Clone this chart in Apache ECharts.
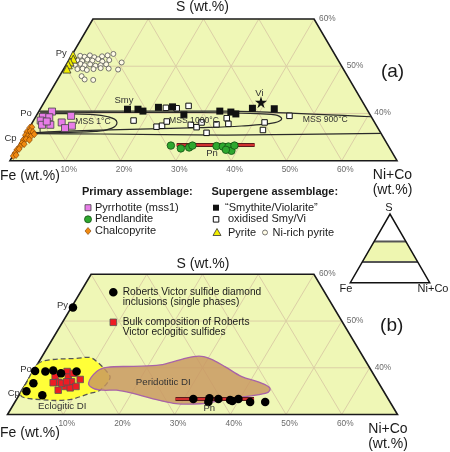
<!DOCTYPE html>
<html><head><meta charset="utf-8">
<script src="https://cdn.jsdelivr.net/npm/echarts@6/dist/echarts.min.js"></script>
<style>html,body{margin:0;padding:0;background:#fff}#c{width:450px;height:452px}</style>
</head><body><div id="c"></div>
<script>
// All compositions given as [Ni+Co wt.%, S wt.%]; Fe wt.% = 100 - Ni+Co - S
// ---------- panel (a) ----------
const pyrite = [[0.2,52.4],[0.7,51.5],[0.4,50.9],[0.4,50.3],[0.6,49.4]];
const niRichPyrite = [
 [1.6,52.2],[2.5,52.0],[3.3,52.3],[4.3,51.9],[5.6,52.1],[6.5,52.3],[7.4,52.6],
 [1.5,51.3],[2.5,51.1],[3.3,51.4],[4.3,51.2],[5.2,51.5],[6.2,51.0],[7.3,51.3],[9.8,50.8],
 [1.6,50.3],[2.5,50.5],[3.4,50.2],[4.3,50.4],[5.4,50.1],[6.3,50.2],[7.2,50.4],
 [2.5,49.4],[3.4,49.5],[4.3,49.2],[5.4,49.4],[6.6,49.6],[8.1,49.5],[9.9,49.3],
 [4.0,47.9],[4.9,47.2],[6.5,47.1]];
const pyrrhotite = [[2.4,40.4],[1.3,39.3],[2.5,39.2],[1.3,38.5],[3.5,37.6],[2.0,37.6],[5.3,38.1],[6.3,39.5],[7.5,37.4],[6.5,36.9],[2.5,38.3]];
const pentlandite = [[27.5,33.2],[29.6,32.6],[31.0,32.8],[31.4,33.2],[35.8,33.1],[37.0,33.0],[38.0,33.0],[39.0,32.1],[39.0,33.2],[37.9,32.3]];
const chalcopyrite = [[0.1,37.0],[0.4,37.1],[0.0,36.1],[0.5,36.3],[1.1,36.1],[0.1,35.4],[0.6,35.2],[1.2,35.1],[1.6,35.6],[0.2,34.4],[0.6,34.6],[1.3,34.4],[0.3,33.7],[0.8,33.5],[0.3,33.0],[0.1,32.3],[0.4,32.5],[0.1,31.6],[0.1,31.0],[0.5,31.2]];
const smythiteViolarite = [[15.8,40.9],[17.7,40.9],[18.8,40.5],[21.2,41.3],[23.7,41.4],[26.6,39.7],[32.7,40.5],[34.8,40.3],[35.9,39.9],[38.3,41.1],[42.3,41.0]];
const violarite = [[39.2,42.4]];
const oxidisedSmyVi = [[18.1,38.5],[22.6,41.2],[24.6,41.1],[26.5,41.6],[22.9,37.2],[23.8,37.4],[24.2,38.3],[28.9,37.6],[30.2,37.1],[30.6,38.1],[33.5,37.7],[32.6,35.9],[34.7,39.0],[35.6,37.8],[45.8,39.5],[42.0,38.1],[42.5,36.5]];
const pnRange = [[28.5,33.3],[42.6,33.3]];
const mss1C = [[0.4,40.0],[9.6,39.8],[13.1,39.3],[15.3,38.1],[15.0,36.9],[12.3,36.2],[7.9,36.0],[2.5,35.9]];
const mss1000C = [[0.3,40.3],[14.8,40.2],[29.3,40.2],[38.4,40.0],[43.1,39.7],[44.7,38.9],[43.9,38.05],[38.2,37.35],[30.9,37.0],[16.6,36.6],[6.0,36.2],[1.2,35.9]];
const mss900Upper = [[0.0,40.5],[33.6,40.5],[60.7,39.3]];
const mss900Lower = [[64.2,35.8],[36.2,35.4],[13.5,35.65],[1.3,35.75]];
// ---------- panel (b) ----------
const rvInclusions = [[0.3,52.9],[0.3,39.3],[2.2,39.2],[3.5,39.4],[5.2,38.8],[7.8,39.2],[1.3,36.7],[0.9,35.0],[4.2,34.1],[31.7,33.3],[34.5,33.5],[36.2,33.3],[34.7,32.7],[38.4,33.1],[38.9,32.9],[39.8,33.3],[42.2,32.7],[44.9,32.7]];
const rvBulk = [[4.5,38.1],[5.7,36.9],[6.1,39.2],[6.9,38.0],[7.4,38.8],[8.0,37.0],[9.3,37.5],[6.5,35.2],[7.4,36.0],[8.4,35.7],[9.3,36.0],[6.4,36.7],[4.8,36.8],[7.1,37.0]];
const eclogiticDI = [[0,40.8],[1.8,41.7],[6.4,42.0],[8.7,42.2],[10.4,41.3],[13.2,39.2],[14.5,37.8],[14.0,35.2],[12.5,34.5],[9.1,33.1],[3.0,33.3],[0.7,33.8],[0,34.7],[0,36.7]];
const peridotiticDI = [[11.2,36.7],[11.4,39.2],[12.8,40.1],[17.5,40.3],[22.1,40.6],[25.1,41.7],[27.2,42.4],[29.0,42.4],[31.2,41.6],[34.0,40.2],[38.0,38.1],[41.5,37.0],[43.8,36.0],[44.5,35.2],[44.0,34.5],[40.7,33.8],[37.5,33.2],[33.4,32.3],[28.6,32.4],[23.9,33.5],[20.3,34.5],[17.0,35.2],[14.6,35.2],[12.6,35.6]];
// ---------- window, grid and ticks ----------
const windowCorners = [[0,30],[70,30],[40,60],[0,60]];
const sGrid = [40,50];
const niGrid = [10,20,30,40,50,60];
const feGrid = [10,20,30,40,50,60];
const bottomTicks = [10,20,30,40,50,60];
const bottomTickLabels = ['10%','20%','30%','40%','50%','60%'];
const rightTicks = [40,50,60];
const rightTickLabels = ['40%','50%','60%'];
const insetTriangle = [[0,0],[100,0],[0,100]];

const FONT = "'Liberation Sans', Arial, Helvetica, sans-serif";
const BG = '#eff7b6', GRIDC = '#dccfa6';
function tern(p){ return [p[0] + p[1]/2, p[1]]; }
const T = arr => arr.map(tern);

function frameSeries(gi){
  return {type:'custom', xAxisIndex:gi, yAxisIndex:gi, z:1, silent:true, data:[[50,45]],
    renderItem:(params, api)=>{
      const P = p => api.coord(tern(p));
      const ch = [];
      ch.push({type:'polygon', shape:{points: windowCorners.map(P)}, style:{fill:BG}});
      const seg = (a,b)=>{const A=P(a),B=P(b);ch.push({type:'line', shape:{x1:A[0],y1:A[1],x2:B[0],y2:B[1]}, style:{stroke:GRIDC, lineWidth:1}});};
      sGrid.forEach(s=>seg([0,s],[100-s,s]));
      niGrid.forEach(k=>seg([k,30], k<=40?[k,60]:[k,100-k]));
      feGrid.forEach(f=>seg([70-f,30], f<=40?[40-f,60]:[0,100-f]));
      ch.push({type:'polygon', shape:{points: windowCorners.map(P)}, style:{fill:'none', stroke:'#1a1a1a', lineWidth:1.6}});
      return {type:'group', children:ch};
    }};
}
function tickSeries(gi){
  return [
    {type:'scatter', xAxisIndex:gi, yAxisIndex:gi, symbolSize:0, silent:true, z:5,
     data: bottomTicks.map((v,i)=>({value: tern([v,30]), name: bottomTickLabels[i]})),
     label:{show:true, position:'inside', offset:[3.5,8.8], formatter:'{b}', fontSize:8.3, color:'#444', fontFamily:FONT}},
    {type:'scatter', xAxisIndex:gi, yAxisIndex:gi, symbolSize:0, silent:true, z:5,
     data: rightTicks.map((s,i)=>({value: tern([100-s,s]), name: rightTickLabels[i]})),
     label:{show:true, position:'right', distance:5, offset:[0,-0.5], formatter:'{b}', fontSize:8.3, color:'#444', fontFamily:FONT}}
  ];
}
function sc(gi, data, symbol, size, fill, stroke, bw, z){
  return {type:'scatter', xAxisIndex:gi, yAxisIndex:gi, data:T(data), symbol, symbolSize:size, z:z||6, silent:true,
    itemStyle:{color:fill, borderColor:stroke, borderWidth:bw, opacity:1}};
}
function ln(gi, data, color, width, smooth, z){
  return {type:'line', xAxisIndex:gi, yAxisIndex:gi, data:T(data), showSymbol:false, symbol:'none', smooth:smooth, z:z||4, silent:true,
    lineStyle:{color, width}};
}
function fieldSeries(gi, pts, fill, stroke, dash, z){
  return {type:'custom', xAxisIndex:gi, yAxisIndex:gi, z, silent:true, data:[[50,45]],
    renderItem:(params, api)=>({type:'polygon', shape:{points: pts.map(p=>api.coord(tern(p))), smooth:0.35},
      style:{fill, stroke, lineWidth:1.3, lineDash: dash||null}})};
}
const STAR = 'path://M50,0 L61,35 L98,35 L68,57 L79,91 L50,70 L21,91 L32,57 L2,35 L39,35 Z';

const series = [
  frameSeries(0), ...tickSeries(0),
  ln(0, mss1C.concat([mss1C[0]]), '#2a2a2a', 1.2, 0.5),
  ln(0, mss1000C, '#2a2a2a', 1.2, 0.4),
  ln(0, mss900Upper, '#2a2a2a', 1.2, 0.2),
  ln(0, mss900Lower, '#2a2a2a', 1.2, 0.2),
  ln(0, pnRange, '#5a1c1c', 4, false, 5),
  ln(0, pnRange, '#d03030', 2, false, 5),
  sc(0, chalcopyrite, 'diamond', [6,7], '#f08a10', '#7a3a00', 0.6),
  sc(0, pyrrhotite, 'rect', 7, '#e87de8', '#444', 0.8),
  sc(0, pentlandite, 'circle', 7.5, '#2ea82e', '#125012', 0.8),
  sc(0, niRichPyrite, 'circle', 5, '#fffbe6', '#555', 0.8),
  sc(0, pyrite, 'triangle', 8, '#f2ee00', '#333', 0.8, 7),
  sc(0, oxidisedSmyVi, 'rect', 5.5, '#ffffff', '#111', 1),
  sc(0, smythiteViolarite, 'rect', 7, '#111', '#111', 0),
  sc(0, violarite, STAR, 12, '#111', '#111', 0),

  frameSeries(1), ...tickSeries(1),
  fieldSeries(1, eclogiticDI, '#ffff38', '#555', [5,3], 2),
  fieldSeries(1, peridotiticDI, 'rgba(200,150,95,0.82)', '#a863a8', null, 3),
  ln(1, pnRange, '#5a1c1c', 4, false, 5),
  ln(1, pnRange, '#d03030', 2, false, 5),
  sc(1, rvBulk, 'rect', 6.5, '#ee1c24', '#555', 0.8, 6),
  sc(1, rvInclusions, 'circle', 8.5, '#000', '#000', 0, 7),

  {type:'custom', xAxisIndex:2, yAxisIndex:2, z:1, silent:true, data:[[50,50]],
   renderItem:(params, api)=>{
     const P = p => api.coord(tern(p));
     const band = windowCorners.map(P);
     const A=P([0,30]),B=P([70,30]),C=P([0,60]),D=P([40,60]);
     return {type:'group', children:[
       {type:'polygon', shape:{points:band}, style:{fill:'#eef6b0'}},
       {type:'line', shape:{x1:A[0],y1:A[1],x2:B[0],y2:B[1]}, style:{stroke:'#555', lineWidth:2}},
       {type:'line', shape:{x1:C[0],y1:C[1],x2:D[0],y2:D[1]}, style:{stroke:'#555', lineWidth:2}},
       {type:'polygon', shape:{points: insetTriangle.map(P)}, style:{fill:'none', stroke:'#111', lineWidth:1.5}}
     ]};
   }}
];

function txt(x,y,text,size,o){
  return {type:'text', x, y, z:100, zlevel:1, silent:true, style:Object.assign({text, font:`${size}px ${FONT}`, fill:'#1a1a1a',
    align:'center', verticalAlign:'middle'}, o||{})};
}
function shp(o){ return Object.assign({z:100, zlevel:1, silent:true}, o); }
const L = {align:'left'};
const graphic = [
  txt(202.5,7.5,'S (wt.%)',14),
  txt(0,175.8,'Fe (wt.%)',14,L),
  txt(392.5,174.7,'Ni+Co',14), txt(392.5,190,'(wt.%)',14),
  txt(392.5,72,'(a)',19),
  txt(61.3,53,'Py',9.5,{fill:'#333'}), txt(26,113,'Po',9.5,{fill:'#333'}), txt(10.5,138,'Cp',9.5,{fill:'#333'}),
  txt(124,100.3,'Smy',9.5,{fill:'#333'}), txt(259.5,93,'Vi',9.5,{fill:'#333'}), txt(212,153.7,'Pn',9.5,{fill:'#333'}),
  txt(93,122,'MSS 1°C',8.6,{fill:'#333'}), txt(194,120.5,'MSS 1000°C',8.6,{fill:'#333'}), txt(325.3,120,'MSS 900°C',8.6,{fill:'#333'}),
  // legend (a)
  txt(82,192,'Primary assemblage:',11,{align:'left', font:`bold 11px ${FONT}`}),
  txt(211.5,192,'Supergene assemblage:',11,{align:'left', font:`bold 11px ${FONT}`}),
  shp({type:'rect', shape:{x:85,y:204.7,width:6,height:6}, style:{fill:'#e87de8', stroke:'#444', lineWidth:0.8}}),
  shp({type:'circle', shape:{cx:88,cy:219.3,r:3.5}, style:{fill:'#2ea82e', stroke:'#125012', lineWidth:0.8}}),
  shp({type:'polygon', shape:{points:[[88,227.5],[91,231],[88,234.5],[85,231]]}, style:{fill:'#f08a10', stroke:'#7a3a00', lineWidth:0.6}}),
  txt(95,207.7,'Pyrrhotite (mss1)',11,L), txt(95,219.3,'Pendlandite',11,L), txt(95,231,'Chalcopyrite',11,L),
  shp({type:'rect', shape:{x:213,y:204.7,width:6,height:6}, style:{fill:'#111'}}),
  shp({type:'rect', shape:{x:213.3,y:216.6,width:5.5,height:5.5}, style:{fill:'#fff', stroke:'#111', lineWidth:1}}),
  shp({type:'polygon', shape:{points:[[217,228.5],[221,235.5],[213,235.5]]}, style:{fill:'#f2ee00', stroke:'#333', lineWidth:0.8}}),
  shp({type:'circle', shape:{cx:265,cy:232.5,r:2.5}, style:{fill:'#fffbe6', stroke:'#555', lineWidth:0.8}}),
  txt(225,207.7,'\u201cSmythite/Violarite\u201d',11,L), txt(228,219.3,'oxidised Smy/Vi',11,L),
  txt(228,232.5,'Pyrite',11,L), txt(272.5,232.5,'Ni-rich pyrite',11,L),
  // inset labels
  txt(389,207.5,'S',11), txt(346,289,'Fe',11), txt(433,289,'Ni+Co',11),
  // panel (b)
  txt(203,264.5,'S (wt.%)',14),
  txt(0,432.8,'Fe (wt.%)',14,L),
  txt(388,429,'Ni+Co',14), txt(388,444,'(wt.%)',14),
  txt(391.7,326,'(b)',19),
  txt(62.5,305.5,'Py',9.5,{fill:'#333'}), txt(26,369.7,'Po',9.5,{fill:'#333'}), txt(13.7,393.3,'Cp',9.5,{fill:'#333'}),
  txt(62.3,406.7,'Eclogitic DI',9.7,{fill:'#333'}), txt(163.3,382.7,'Peridotitic DI',9.7,{fill:'#333'}), txt(209.3,408.3,'Pn',9.5,{fill:'#333'}),
  shp({type:'circle', shape:{cx:113.3,cy:292.3,r:4.3}, style:{fill:'#000'}}),
  txt(122.7,291.7,'Roberts Victor sulfide diamond',10.2,L), txt(122.7,302.3,'inclusions (single phases)',10.2,L),
  shp({type:'rect', shape:{x:110,y:319,width:6.6,height:6.6}, style:{fill:'#ee1c24', stroke:'#555', lineWidth:0.8}}),
  txt(122.7,321.7,'Bulk composition of Roberts',10.2,L), txt(122.7,332,'Victor eclogitic sulfides',10.2,L)
];

const chart = echarts.init(document.getElementById('c'), null, {renderer:'canvas'});
chart.setOption({
  animation:false,
  backgroundColor:'#ffffff',
  grid:[{left:10,top:19,width:387,height:141.7},{left:7.5,top:274.3,width:390,height:140.2},{left:350.3,top:214,width:79.4,height:68.7}],
  xAxis:[{gridIndex:0,type:'value',min:15,max:85,show:false},{gridIndex:1,type:'value',min:15,max:85,show:false},{gridIndex:2,type:'value',min:0,max:100,show:false}],
  yAxis:[{gridIndex:0,type:'value',min:30,max:60,show:false},{gridIndex:1,type:'value',min:30,max:60,show:false},{gridIndex:2,type:'value',min:0,max:100,show:false}],
  series, graphic
});
</script></body></html>
